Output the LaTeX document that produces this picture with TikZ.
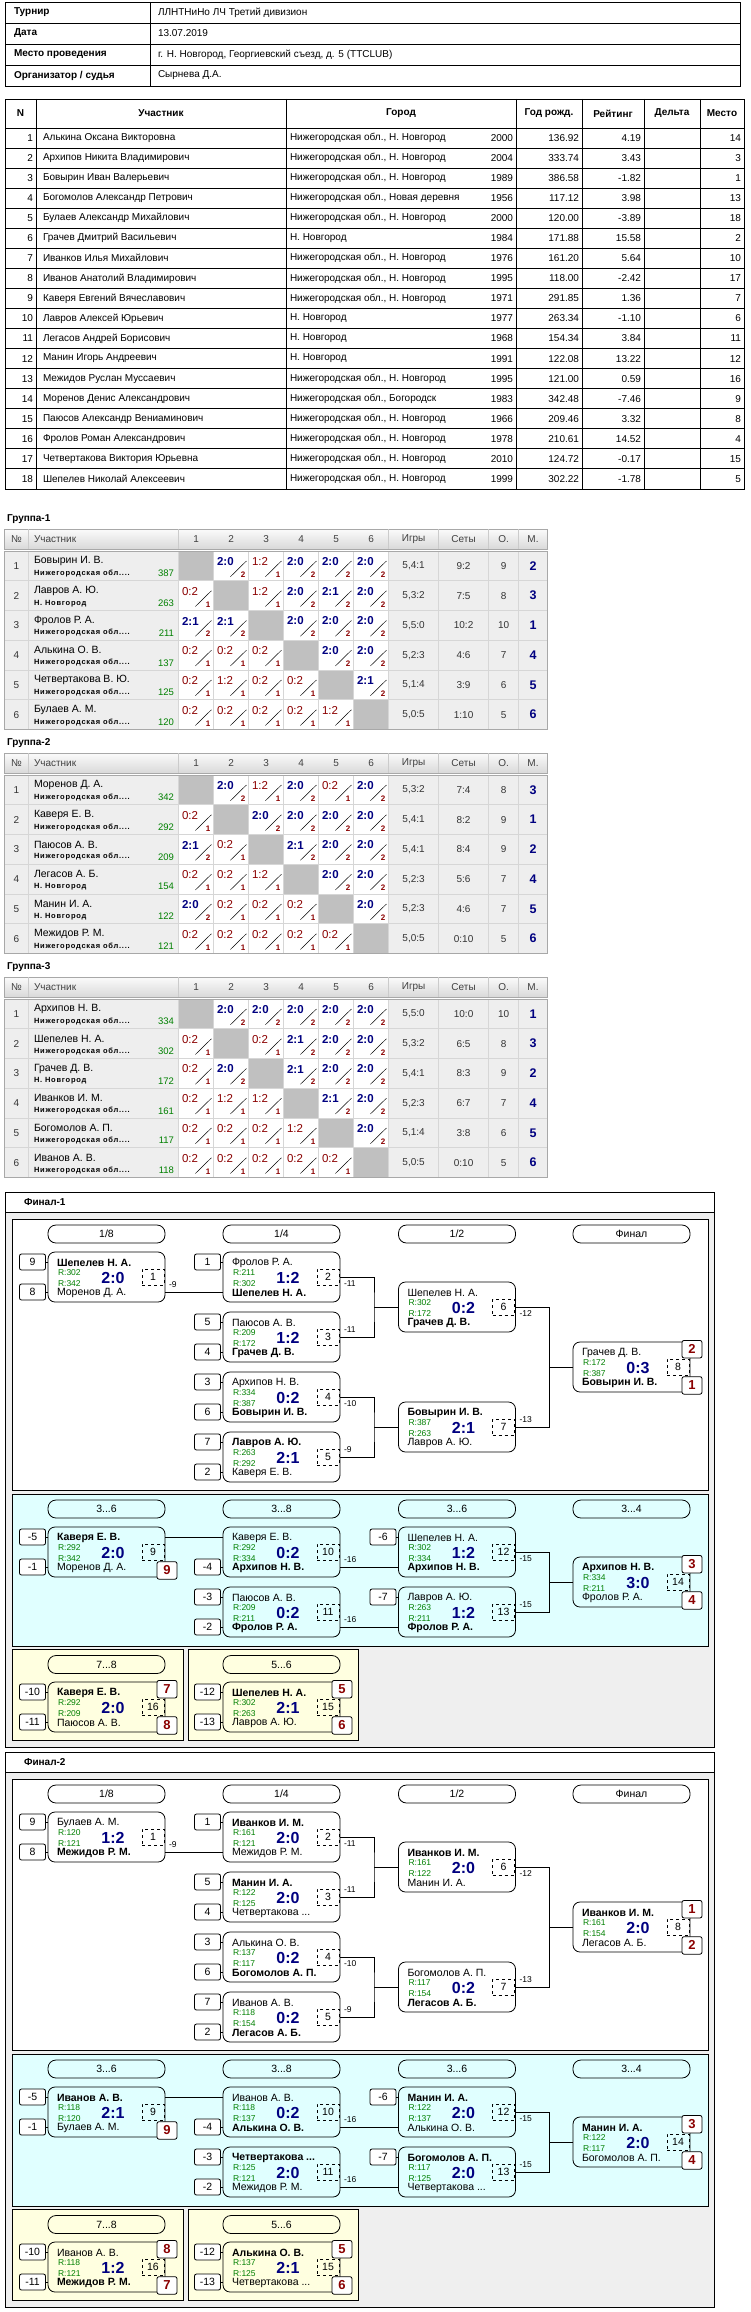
\documentclass[tikz,border=0pt]{standalone}
\usepackage{fontspec}
\setmainfont{Liberation Sans}
\newfontfamily\subfont[LetterSpace=10]{Liberation Sans}
\usetikzlibrary{positioning}

\definecolor{scorenavy}{HTML}{000080}
\definecolor{lossred}{HTML}{8B0000}
\definecolor{ratgreen}{HTML}{008000}
\definecolor{rowgray}{HTML}{EEEEEE}
\definecolor{gridgray}{HTML}{D6D6D6}
\definecolor{tableline}{HTML}{A8A8A8}
\definecolor{diaggray}{HTML}{C0C0C0}
\definecolor{headtop}{HTML}{FBFBFB}
\definecolor{headbot}{HTML}{D9D9D9}
\definecolor{panelcyan}{HTML}{E0FFFF}
\definecolor{panelyellow}{HTML}{FFFFE0}
\definecolor{backgray}{HTML}{EFEFEF}

\newcommand\won[1]{\textbf{#1}}
\newcommand\nobl{Нижегородская обл....}
\newcommand\rng[2]{#1...#2}

\tikzset{
  every node/.style={inner sep=0pt, outer sep=0pt},
  infotxt/.style={anchor=west, font=\fontsize{10}{12}\selectfont},
  infohead/.style={anchor=west, font=\fontsize{10}{12}\selectfont\bfseries},
  colhead/.style={font=\fontsize{10}{12}\selectfont\bfseries},
  celltxt/.style={font=\fontsize{10}{12}\selectfont},
  grptitle/.style={anchor=west, font=\fontsize{10}{12}\selectfont\bfseries},
  ghead/.style={font=\fontsize{10}{12}\selectfont, text=black!75},
  gname/.style={anchor=west, font=\fontsize{10.5}{12}\selectfont},
  gsub/.style={anchor=west, font=\subfont\fontsize{7.5}{9}\selectfont\bfseries},
  grat/.style={anchor=east, font=\fontsize{9.5}{11}\selectfont, text=ratgreen},
  gtxt/.style={font=\fontsize{10}{12}\selectfont, text=black!80},
  gplace/.style={font=\fontsize{12.5}{14}\selectfont\bfseries, text=scorenavy},
  gwin/.style={anchor=west, font=\fontsize{11.5}{13}\selectfont\bfseries, text=scorenavy},
  gloss/.style={anchor=west, font=\fontsize{11.5}{13}\selectfont, text=lossred},
  gpts/.style={font=\fontsize{8}{9}\selectfont\bfseries, text=lossred},
  ftitle/.style={anchor=west, font=\fontsize{10}{12}\selectfont\bfseries},
  rndhead/.style={draw, rounded corners=8pt, minimum width=117pt, minimum height=18pt, font=\fontsize{10.5}{12}\selectfont},
  mbox/.style={draw, rounded corners=7pt, minimum width=117pt, minimum height=50pt, anchor=north west},
  seedbox/.style={draw, fill=white, rounded corners=2pt, minimum width=26pt, minimum height=16pt, font=\fontsize{10.5}{12}\selectfont},
  placebox/.style={draw, fill=white, rounded corners=2pt, minimum width=20pt, minimum height=17.5pt, font=\fontsize{13}{14}\selectfont\bfseries, text=lossred},
  mnum/.style={draw, dashed, minimum width=22pt, minimum height=16pt, font=\fontsize{10.5}{12}\selectfont},
  pname/.style={anchor=west, font=\fontsize{10.5}{12}\selectfont},
  prat/.style={anchor=west, font=\fontsize{8.5}{10}\selectfont, text=ratgreen},
  pscore/.style={font=\fontsize{16}{18}\selectfont\bfseries, text=scorenavy},
  lossdn/.style={anchor=west, xshift=4pt, yshift=-7pt, font=\fontsize{8.5}{10}\selectfont},
  lossup/.style={anchor=west, xshift=4pt, yshift=7pt, font=\fontsize{8.5}{10}\selectfont},
}

% one match of a bracket: name, left, top, player 1, R1, R2, score, player 2, number
\newcommand\match[9]{%
  \node[mbox] (#1) at (#2,#3) {};
  \coordinate (#1-t) at (#2,#3+10);
  \coordinate (#1-b) at (#2,#3+40);
  \node[pname] (#1-p1) at (#2+9,#3+10.5) {#4};
  \node[prat] (#1-r1) at (#2+10,#3+21) {R:#5};
  \node[prat] (#1-r2) at (#2+10,#3+31.5) {R:#6};
  \node[pname] (#1-p2) at (#2+9,#3+40.5) {#8};
  \node[pscore] (#1-sc) at (#2+65,#3+25.5) {#7};
  \node[mnum] (#1-n) at (#2+105,#3+25) {#9};
}
\newcommand\seed[3]{\node[seedbox, left=2.5pt of #2] (#1) {#3}; \draw (#1) -- (#2);}
\newcommand\placetop[3]{\node[placebox] (#1) at ([shift={(2pt,-7.2pt)}]#2.north east) {#3};}
\newcommand\placebot[3]{\node[placebox] (#1) at ([shift={(2pt,6.6pt)}]#2.south east) {#3};}

% one result cell of a group table: column, row, code (x, w2:0, l0:2)
\newcommand\gres[3]{\expandafter\gresparse#3\relax{#1}{#2}}
\def\gresparse#1#2\relax#3#4{%
  \pgfmathsetmacro\gcx{178.6+35*(#3-1)}%
  \pgfmathsetmacro\gcy{551+29.75*(#4-1)}%
  \if#1x
    \fill[diaggray] (\gcx,\gcy) rectangle ++(35,29.75);
  \else
    \fill[white] (\gcx,\gcy) rectangle ++(35,29.75);
    \draw[line width=0.5pt] (\gcx+16.8,\gcy+25.7) -- (\gcx+32.8,\gcy+10);
    \if#1w
      \node[gwin] (\gp-#4-#3) at (\gcx+3.5,\gcy+10.5) {#2};
      \node[gpts] (\gp-#4-#3p) at (\gcx+29.5,\gcy+23.5) {2};
    \else
      \node[gloss] (\gp-#4-#3) at (\gcx+3.5,\gcy+10.5) {#2};
      \node[gpts] (\gp-#4-#3p) at (\gcx+29.5,\gcy+23.5) {1};
    \fi
  \fi
  \draw[gridgray] (\gcx,\gcy) rectangle ++(35,29.75);
}

\newcommand\grouptable[3]{%
  \def\gp{#1}%
  \node[grptitle] (#1title) at (7,519) {#2};
  \shade[top color=headtop, bottom color=headbot, draw=tableline, line width=0.6pt] (4.5,529) rectangle (547.5,549);
  \node[ghead, anchor=west] (#1hname) at (34,539) {Участник};
  \foreach \hx/\htxt [count=\k] in {16.5/№, 196.1/1, 231.1/2, 266.1/3, 301.1/4, 336.1/5, 371.1/6, 413.6/Игры, 463.6/Сеты, 503.6/О., 533/М.}
    \node[ghead] (#1h\k) at (\hx,539) {\htxt};
  \foreach \xx in {28.6,178.6,388.6,438.6,488.6,518.6}
    \draw[tableline!60, line width=0.6pt] (\xx,529) -- (\xx,549);
  \foreach \gN/\gNm/\gSb/\gRt/\gA/\gB/\gC/\gD/\gE/\gF/\gGm/\gSt/\gPt/\gPl in {#3}{
    \pgfmathsetmacro\gry{551+29.75*(\gN-1)}
    \fill[rowgray] (4.5,\gry) rectangle (547.5,\gry+29.75);
    \node[gtxt] (#1-\gN-no) at (16.5,\gry+14.9) {\gN};
    \node[gname] (#1-\gN-nm) at (34,\gry+10) {\gNm};
    \node[gsub] (#1-\gN-sb) at (34,\gry+22.5) {\gSb};
    \node[grat] (#1-\gN-rt) at (174,\gry+22.5) {\gRt};
    \gres{1}{\gN}{\gA}
    \gres{2}{\gN}{\gB}
    \gres{3}{\gN}{\gC}
    \gres{4}{\gN}{\gD}
    \gres{5}{\gN}{\gE}
    \gres{6}{\gN}{\gF}
    \node[gtxt] (#1-\gN-gm) at (413.6,\gry+14.9) {\gGm};
    \node[gtxt] (#1-\gN-st) at (463.6,\gry+14.9) {\gSt};
    \node[gtxt] (#1-\gN-pt) at (503.6,\gry+14.9) {\gPt};
    \node[gplace] (#1-\gN-pl) at (533,\gry+14.9) {\gPl};
  }
  \foreach \xx in {28.6,178.6,388.6,438.6,488.6,518.6}
    \draw[gridgray] (\xx,551) -- (\xx,729.5);
  \foreach \i in {1,...,5}
    \draw[gridgray] (4.5,551+29.75*\i) -- (547.5,551+29.75*\i);
  \draw[tableline, line width=0.6pt] (4.5,551) rectangle (547.5,729.5);
}

\newcommand\bracketpanels[2]{%
  \draw[fill=backgray] (5,1192) rectangle (714,1747);
  \draw[fill=white] (5,1192) rectangle (714,1212);
  \node[ftitle] (#1title) at (24,1202) {#2};
  \draw[fill=white] (12,1219) rectangle (708,1490);
  \draw[fill=panelcyan] (12,1494) rectangle (708,1646);
  \draw[fill=panelyellow] (12,1649) rectangle (183,1740);
  \draw[fill=panelyellow] (188,1649) rectangle (358,1740);
  \foreach \hx/\hy/\htxt [count=\k] in {106.5/1234/{1/8}, 281.5/1234/{1/4}, 457/1234/{1/2}, 631.5/1234/Финал,
      106.5/1509/\rng36, 281.5/1509/\rng38, 457/1509/\rng36, 631.5/1509/\rng34,
      106.5/1664.5/\rng78, 281.5/1664.5/\rng56}
    \node[rndhead] (#1h\k) at (\hx,\hy) {\htxt};
}

\newcommand\bracketlinks[1]{%
  \foreach \sm/\ss/\sv in {m1/t/9, m1/b/8, m2/t/1, m3/t/5, m3/b/4, m4/t/3, m4/b/6, m5/t/7, m5/b/2,
      m9/t/-5, m9/b/-1, m10/b/-4, m11/t/-3, m11/b/-2, m12/t/-6, m13/t/-7,
      m16/t/-10, m16/b/-11, m15/t/-12, m15/b/-13}
    \seed{#1s\sm\ss}{#1\sm-\ss}{\sv};
  % main bracket
  \coordinate[xshift=34pt] (#1j1) at (#1m2.east |- #1m6.west);
  \coordinate[xshift=34pt] (#1j2) at (#1m4.east |- #1m7.west);
  \coordinate[xshift=34pt] (#1j3) at (#1m6.east |- #1m8.west);
  \coordinate[xshift=34pt] (#1j4) at (#1m12.east |- #1m14.west);
  \draw (#1m1-b -| #1m1.east) node[lossup] (#1l1) {-9} -- (#1m2-b);
  \draw (#1m2.east) node[lossdn] (#1l2) {-11} -| (#1j1) |- (#1m3.east) node[lossup] (#1l3) {-11};
  \draw (#1j1) -- (#1m6.west);
  \draw (#1m4.east) node[lossdn] (#1l4) {-10} -| (#1j2) |- (#1m5.east) node[lossup] (#1l5) {-9};
  \draw (#1j2) -- (#1m7.west);
  \draw (#1m6.east) node[lossdn] (#1l6) {-12} -| (#1j3) |- (#1m7.east) node[lossup] (#1l7) {-13};
  \draw (#1j3) -- (#1m8.west);
  % places 3-6
  \draw (#1m9-t -| #1m9.east) -- (#1m10-t);
  \draw (#1m10-b -| #1m10.east) node[lossup] (#1l10) {-16} -- (#1m12-b);
  \draw (#1m11-b -| #1m11.east) node[lossup] (#1l11) {-16} -- (#1m13-b);
  \draw (#1m12.east) node[lossdn] (#1l12) {-15} -| (#1j4) |- (#1m13.east) node[lossup] (#1l13) {-15};
  \draw (#1j4) -- (#1m14.west);
}

\begin{document}
\begin{tikzpicture}[x=1pt, y=-1pt, line width=0.8pt, font=\fontsize{10}{12}\selectfont]
  \useasboundingbox (0,0) rectangle (750,2312);
  \fill[white] (0,0) rectangle (750,2312);

  % tournament info
  \draw (5,2) rectangle (740,86);
  \foreach \i in {1,2,3}
    \draw (5,2+21*\i) -- (740,2+21*\i);
  \draw (150,2) -- (150,86);
  \foreach \iy/\ilab/\ival in {12.5/Турнир/ЛЛНТНиНо ЛЧ Третий дивизион, 33.5/Дата/13.07.2019,
      54.5/Место проведения/{г. Н. Новгород, Георгиевский съезд, д. 5 (TTCLUB)},
      75.5/{Организатор / судья}/Сырнева Д.А.}
  {
    \node[infohead] (il\iy) at (14,\iy) {\ilab};
    \node[infotxt] (iv\iy) at (158,\iy) {\ival};
  }

  % participants
  \draw (5,99) rectangle (744,489);
  \draw (5,128) -- (744,128);
  \foreach \i in {1,...,17}
    \draw (5,128+20.05*\i) -- (744,128+20.05*\i);
  \foreach \xx in {36,286,516,582,644,700}
    \draw (\xx,99) -- (\xx,489);
  \foreach \hx/\htxt [count=\k] in {20.5/N, 161/Участник, 401/Город, 549/Год рожд., 613/Рейтинг, 672/Дельта, 722/Место}
    \node[colhead] (ph\k) at (\hx,113.5) {\htxt};
  \foreach \pN/\pName/\pCity/\pYear/\pRat/\pDel/\pPlace in {
      1/Алькина Оксана Викторовна/{Нижегородская обл., Н. Новгород}/2000/136.92/4.19/14,
      2/Архипов Никита Владимирович/{Нижегородская обл., Н. Новгород}/2004/333.74/3.43/3,
      3/Бовырин Иван Валерьевич/{Нижегородская обл., Н. Новгород}/1989/386.58/-1.82/1,
      4/Богомолов Александр Петрович/{Нижегородская обл., Новая деревня}/1956/117.12/3.98/13,
      5/Булаев Александр Михайлович/{Нижегородская обл., Н. Новгород}/2000/120.00/-3.89/18,
      6/Грачев Дмитрий Васильевич/Н. Новгород/1984/171.88/15.58/2,
      7/Иванков Илья Михайлович/{Нижегородская обл., Н. Новгород}/1976/161.20/5.64/10,
      8/Иванов Анатолий Владимирович/{Нижегородская обл., Н. Новгород}/1995/118.00/-2.42/17,
      9/Каверя Евгений Вячеславович/{Нижегородская обл., Н. Новгород}/1971/291.85/1.36/7,
      10/Лавров Алексей Юрьевич/Н. Новгород/1977/263.34/-1.10/6,
      11/Легасов Андрей Борисович/Н. Новгород/1968/154.34/3.84/11,
      12/Манин Игорь Андреевич/Н. Новгород/1991/122.08/13.22/12,
      13/Межидов Руслан Муссаевич/{Нижегородская обл., Н. Новгород}/1995/121.00/0.59/16,
      14/Моренов Денис Александрович/{Нижегородская обл., Богородск}/1983/342.48/-7.46/9,
      15/Паюсов Александр Вениаминович/{Нижегородская обл., Н. Новгород}/1966/209.46/3.32/8,
      16/Фролов Роман Александрович/{Нижегородская обл., Н. Новгород}/1978/210.61/14.52/4,
      17/Четвертакова Виктория Юрьевна/{Нижегородская обл., Н. Новгород}/2010/124.72/-0.17/15,
      18/Шепелев Николай Алексеевич/{Нижегородская обл., Н. Новгород}/1999/302.22/-1.78/5}
  {
    \pgfmathsetmacro\py{128+20.05*(\pN-0.5)}
    \node[celltxt, anchor=east] (pn\pN) at (33,\py) {\pN};
    \node[celltxt, anchor=west] (pnm\pN) at (43,\py) {\pName};
    \node[celltxt, anchor=west] (pc\pN) at (290,\py) {\pCity};
    \node[celltxt, anchor=east] (py\pN) at (513,\py) {\pYear};
    \node[celltxt, anchor=east] (pr\pN) at (579,\py) {\pRat};
    \node[celltxt, anchor=east] (pd\pN) at (641,\py) {\pDel};
    \node[celltxt, anchor=east] (pp\pN) at (741,\py) {\pPlace};
  }

  % groups
  \grouptable{g1}{Группа-1}{
    1/Бовырин И. В./\nobl/387/x/w2:0/l1:2/w2:0/w2:0/w2:0/{5,4:1}/9:2/9/2,
    2/Лавров А. Ю./Н. Новгород/263/l0:2/x/l1:2/w2:0/w2:1/w2:0/{5,3:2}/7:5/8/3,
    3/Фролов Р. А./\nobl/211/w2:1/w2:1/x/w2:0/w2:0/w2:0/{5,5:0}/10:2/10/1,
    4/Алькина О. В./\nobl/137/l0:2/l0:2/l0:2/x/w2:0/w2:0/{5,2:3}/4:6/7/4,
    5/Четвертакова В. Ю./\nobl/125/l0:2/l1:2/l0:2/l0:2/x/w2:1/{5,1:4}/3:9/6/5,
    6/Булаев А. М./\nobl/120/l0:2/l0:2/l0:2/l0:2/l1:2/x/{5,0:5}/1:10/5/6}
  \begin{scope}[shift={(0,224)}]
    \grouptable{g2}{Группа-2}{
      1/Моренов Д. А./\nobl/342/x/w2:0/l1:2/w2:0/l0:2/w2:0/{5,3:2}/7:4/8/3,
      2/Каверя Е. В./\nobl/292/l0:2/x/w2:0/w2:0/w2:0/w2:0/{5,4:1}/8:2/9/1,
      3/Паюсов А. В./\nobl/209/w2:1/l0:2/x/w2:1/w2:0/w2:0/{5,4:1}/8:4/9/2,
      4/Легасов А. Б./Н. Новгород/154/l0:2/l0:2/l1:2/x/w2:0/w2:0/{5,2:3}/5:6/7/4,
      5/Манин И. А./Н. Новгород/122/w2:0/l0:2/l0:2/l0:2/x/w2:0/{5,2:3}/4:6/7/5,
      6/Межидов Р. М./\nobl/121/l0:2/l0:2/l0:2/l0:2/l0:2/x/{5,0:5}/0:10/5/6}
  \end{scope}
  \begin{scope}[shift={(0,448)}]
    \grouptable{g3}{Группа-3}{
      1/Архипов Н. В./\nobl/334/x/w2:0/w2:0/w2:0/w2:0/w2:0/{5,5:0}/10:0/10/1,
      2/Шепелев Н. А./\nobl/302/l0:2/x/l0:2/w2:1/w2:0/w2:0/{5,3:2}/6:5/8/3,
      3/Грачев Д. В./Н. Новгород/172/l0:2/w2:0/x/w2:1/w2:0/w2:0/{5,4:1}/8:3/9/2,
      4/Иванков И. М./\nobl/161/l0:2/l1:2/l1:2/x/w2:1/w2:0/{5,2:3}/6:7/7/4,
      5/Богомолов А. П./\nobl/117/l0:2/l0:2/l0:2/l1:2/x/w2:0/{5,1:4}/3:8/6/5,
      6/Иванов А. В./\nobl/118/l0:2/l0:2/l0:2/l0:2/l0:2/x/{5,0:5}/0:10/5/6}
  \end{scope}

  % final 1
  \bracketpanels{f1}{Финал-1}
  \match{f1m1}{48}{1252}{\won{Шепелев Н. А.}}{302}{342}{2:0}{Моренов Д. А.}{1}
  \match{f1m2}{223}{1252}{Фролов Р. А.}{211}{302}{1:2}{\won{Шепелев Н. А.}}{2}
  \match{f1m3}{223}{1312}{Паюсов А. В.}{209}{172}{1:2}{\won{Грачев Д. В.}}{3}
  \match{f1m4}{223}{1372}{Архипов Н. В.}{334}{387}{0:2}{\won{Бовырин И. В.}}{4}
  \match{f1m5}{223}{1432}{\won{Лавров А. Ю.}}{263}{292}{2:1}{Каверя Е. В.}{5}
  \match{f1m6}{398.5}{1282}{Шепелев Н. А.}{302}{172}{0:2}{\won{Грачев Д. В.}}{6}
  \match{f1m7}{398.5}{1402}{\won{Бовырин И. В.}}{387}{263}{2:1}{Лавров А. Ю.}{7}
  \match{f1m8}{573}{1342}{Грачев Д. В.}{172}{387}{0:3}{\won{Бовырин И. В.}}{8}
  \match{f1m9}{48}{1527}{\won{Каверя Е. В.}}{292}{342}{2:0}{Моренов Д. А.}{9}
  \match{f1m10}{223}{1527}{Каверя Е. В.}{292}{334}{0:2}{\won{Архипов Н. В.}}{10}
  \match{f1m11}{223}{1587}{Паюсов А. В.}{209}{211}{0:2}{\won{Фролов Р. А.}}{11}
  \match{f1m12}{398.5}{1527}{Шепелев Н. А.}{302}{334}{1:2}{\won{Архипов Н. В.}}{12}
  \match{f1m13}{398.5}{1587}{Лавров А. Ю.}{263}{211}{1:2}{\won{Фролов Р. А.}}{13}
  \match{f1m14}{573}{1557}{\won{Архипов Н. В.}}{334}{211}{3:0}{Фролов Р. А.}{14}
  \match{f1m16}{48}{1682}{\won{Каверя Е. В.}}{292}{209}{2:0}{Паюсов А. В.}{16}
  \match{f1m15}{223}{1682}{\won{Шепелев Н. А.}}{302}{263}{2:1}{Лавров А. Ю.}{15}
  \bracketlinks{f1}
  \placetop{f1p2}{f1m8}{2}
  \placebot{f1p1}{f1m8}{1}
  \placebot{f1p9}{f1m9}{9}
  \placetop{f1p3}{f1m14}{3}
  \placebot{f1p4}{f1m14}{4}
  \placetop{f1p7}{f1m16}{7}
  \placebot{f1p8}{f1m16}{8}
  \placetop{f1p5}{f1m15}{5}
  \placebot{f1p6}{f1m15}{6}

  % final 2
  \begin{scope}[shift={(0,560)}]
    \bracketpanels{f2}{Финал-2}
    \match{f2m1}{48}{1252}{Булаев А. М.}{120}{121}{1:2}{\won{Межидов Р. М.}}{1}
    \match{f2m2}{223}{1252}{\won{Иванков И. М.}}{161}{121}{2:0}{Межидов Р. М.}{2}
    \match{f2m3}{223}{1312}{\won{Манин И. А.}}{122}{125}{2:0}{Четвертакова ...}{3}
    \match{f2m4}{223}{1372}{Алькина О. В.}{137}{117}{0:2}{\won{Богомолов А. П.}}{4}
    \match{f2m5}{223}{1432}{Иванов А. В.}{118}{154}{0:2}{\won{Легасов А. Б.}}{5}
    \match{f2m6}{398.5}{1282}{\won{Иванков И. М.}}{161}{122}{2:0}{Манин И. А.}{6}
    \match{f2m7}{398.5}{1402}{Богомолов А. П.}{117}{154}{0:2}{\won{Легасов А. Б.}}{7}
    \match{f2m8}{573}{1342}{\won{Иванков И. М.}}{161}{154}{2:0}{Легасов А. Б.}{8}
    \match{f2m9}{48}{1527}{\won{Иванов А. В.}}{118}{120}{2:1}{Булаев А. М.}{9}
    \match{f2m10}{223}{1527}{Иванов А. В.}{118}{137}{0:2}{\won{Алькина О. В.}}{10}
    \match{f2m11}{223}{1587}{\won{Четвертакова ...}}{125}{121}{2:0}{Межидов Р. М.}{11}
    \match{f2m12}{398.5}{1527}{\won{Манин И. А.}}{122}{137}{2:0}{Алькина О. В.}{12}
    \match{f2m13}{398.5}{1587}{\won{Богомолов А. П.}}{117}{125}{2:0}{Четвертакова ...}{13}
    \match{f2m14}{573}{1557}{\won{Манин И. А.}}{122}{117}{2:0}{Богомолов А. П.}{14}
    \match{f2m16}{48}{1682}{Иванов А. В.}{118}{121}{1:2}{\won{Межидов Р. М.}}{16}
    \match{f2m15}{223}{1682}{\won{Алькина О. В.}}{137}{125}{2:1}{Четвертакова ...}{15}
    \bracketlinks{f2}
    \placetop{f2p1}{f2m8}{1}
    \placebot{f2p2}{f2m8}{2}
    \placebot{f2p9}{f2m9}{9}
    \placetop{f2p3}{f2m14}{3}
    \placebot{f2p4}{f2m14}{4}
    \placetop{f2p8}{f2m16}{8}
    \placebot{f2p7}{f2m16}{7}
    \placetop{f2p5}{f2m15}{5}
    \placebot{f2p6}{f2m15}{6}
  \end{scope}
\end{tikzpicture}
\end{document}
